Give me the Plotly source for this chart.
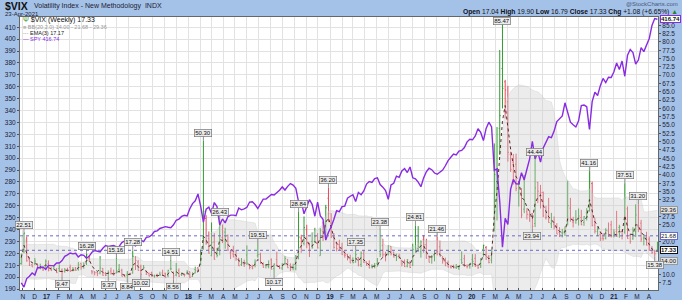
import pandas as pd
import plotly.graph_objects as go

# ---------------- data ----------------
start_date = "2016-10-28"  # first weekly bar (Friday)

# VIX weekly OHLC, Oct-2016 .. Apr-2021
vix_open = [
    13.3, 16.9, 18.7, 14.5, 13.0, 13.3, 13.3, 12.3, 12.1, 12.6,
    # 2017
    13.3, 11.8, 11.9, 11.5, 11.9, 11.4, 11.0, 11.6, 12.2, 11.3, 12.0, 11.6, 13.4, 12.6, 13.4, 15.0, 11.1, 10.9, 10.6, 10.5,
    11.9, 10.4, 10.4, 11.1, 10.4, 10.5, 11.6, 11.3, 9.9, 9.9, 10.3, 10.5, 13.3, 13.8, 12.5, 11.9, 11.1, 10.4, 10.6, 9.6,
    10.0, 10.2, 10.5, 10.4, 9.7, 11.8, 10.8, 9.9, 11.2, 10.0, 10.0, 10.5,
    # 2018
    10.9, 9.5, 11.6, 12.0, 13.2, 21.0, 26.9, 20.9, 15.8, 19.8, 16.1, 18.5, 21.2, 22.8, 21.8, 16.6, 16.2, 15.9, 14.8, 13.0,
    13.2, 15.9, 12.9, 12.5, 13.5, 15.7, 16.1, 13.0, 12.8, 12.4, 14.5, 11.8, 14.6, 12.6, 12.0, 13.2, 14.6, 12.8, 12.0, 11.8,
    15.6, 21.0, 19.4, 23.5, 18.9, 20.0, 20.0, 19.5, 15.7, 22.9, 22.0, 33.0,
    # 2019
    25.5, 22.0, 19.5, 19.0, 18.3, 15.9, 16.1, 15.1, 14.7, 13.8, 15.2, 13.1, 16.4, 13.6, 13.2, 12.6, 12.8, 13.3, 17.0, 18.8,
    16.1, 16.1, 18.5, 16.8, 15.9, 15.7, 14.2, 14.0, 12.6, 13.8, 12.9, 21.6, 17.9, 16.9, 20.5, 19.0, 15.5, 15.5, 15.7, 17.0,
    18.4, 15.0, 14.0, 13.6, 12.6, 12.5, 12.2, 12.0, 14.5, 14.8, 12.6, 12.6,
    # 2020
    14.6, 14.9, 12.8, 12.9, 17.6, 18.2, 15.5, 14.4, 24.0, 38.0, 54.0, 72.0, 68.0, 62.0, 46.2, 43.8, 43.2, 34.6, 35.9, 29.7,
    28.9, 28.0, 28.4, 25.4, 37.8, 34.5, 34.7, 27.1, 29.1, 25.3, 25.2, 24.5, 22.7, 22.6, 22.6, 25.3, 30.0, 25.8, 26.5, 27.0,
    27.2, 25.7, 28.6, 29.2, 37.4, 24.9, 23.0, 22.0, 21.0, 21.0, 23.2, 25.0, 21.7,
    # 2021
    23.0, 24.2, 23.0, 22.8, 29.8, 21.8, 20.8, 23.0, 24.4, 25.5, 21.0, 20.8, 20.7, 17.9, 16.8, 17.04,
]
vix_high = [
    16.2, 22.51, 21.5, 15.3, 13.3, 15.0, 13.3, 13.3, 12.3, 14.6,
    14.3, 12.3, 12.9, 12.0, 13.1, 11.9, 12.0, 12.1, 13.0, 12.3, 12.3, 13.8, 13.4, 13.7, 16.28, 15.6, 11.4, 11.0, 10.9, 15.59,
    12.0, 10.8, 11.3, 12.1, 11.5, 15.16, 13.2, 11.8, 10.1, 11.1, 10.6, 17.28, 15.6, 14.4, 13.0, 12.9, 11.2, 10.6, 10.9, 10.0,
    10.3, 10.9, 11.5, 10.6, 11.5, 14.51, 10.9, 13.5, 11.9, 10.6, 10.3, 11.3,
    10.9, 10.7, 12.4, 12.2, 17.5, 50.30, 27.9, 23.0, 25.7, 22.5, 18.0, 26.43, 25.1, 24.1, 22.1, 17.3, 18.7, 17.4, 15.1, 15.0,
    14.5, 18.8, 13.0, 13.0, 14.6, 19.51, 16.6, 13.7, 13.2, 14.3, 14.9, 13.4, 16.9, 12.9, 13.5, 15.6, 14.6, 13.4, 13.3, 15.9,
    28.84, 22.0, 27.5, 25.0, 19.6, 22.7, 24.1, 22.5, 24.0, 25.9, 31.0, 36.20,
    28.5, 22.5, 20.0, 20.5, 19.6, 17.3, 16.2, 16.0, 15.2, 17.35, 15.3, 17.0, 17.3, 14.0, 14.3, 13.1, 13.5, 15.0, 23.38, 20.8,
    16.9, 18.8, 18.6, 16.9, 16.3, 16.3, 14.5, 14.6, 14.7, 13.9, 19.3, 24.81, 24.6, 20.3, 21.9, 20.8, 15.8, 15.9, 17.4, 21.46,
    20.2, 15.6, 15.1, 14.2, 12.8, 13.0, 13.2, 12.8, 17.0, 16.0, 13.1, 13.5,
    16.2, 16.2, 13.0, 15.0, 19.0, 18.6, 15.9, 17.5, 49.48, 54.4, 77.57, 85.47, 68.6, 66.8, 47.0, 46.3, 46.4, 37.9, 36.0, 40.0,
    30.0, 29.1, 28.5, 44.44, 37.9, 37.0, 35.0, 30.7, 33.1, 28.6, 27.5, 25.5, 24.3, 23.8, 24.5, 38.28, 33.1, 27.4, 29.4, 29.9,
    29.5, 27.6, 30.0, 41.16, 38.0, 27.0, 24.5, 23.0, 22.5, 24.0, 25.7, 26.2, 23.7,
    29.2, 25.0, 23.4, 37.51, 30.5, 22.3, 24.3, 31.16, 31.2, 26.5, 22.2, 22.9, 21.5, 18.6, 17.5, 19.90,
]
vix_low = [
    13.0, 16.5, 13.9, 12.6, 12.3, 12.9, 11.75, 11.6, 11.1, 11.5,
    11.0, 11.2, 11.5, 10.5, 10.9, 9.47, 10.6, 10.9, 10.9, 11.0, 11.2, 11.2, 11.5, 11.8, 12.9, 13.9, 10.1, 9.8, 9.56, 10.1,
    9.7, 9.6, 9.37, 10.0, 9.7, 10.4, 10.9, 9.5, 9.3, 8.84, 9.9, 10.3, 11.4, 11.2, 10.02, 11.5, 9.9, 9.5, 9.4, 9.1,
    9.2, 9.6, 9.6, 9.1, 9.2, 11.3, 8.56, 9.5, 9.3, 9.6, 9.4, 10.0,
    8.92, 9.3, 10.4, 10.8, 12.8, 17.5, 19.0, 16.3, 15.5, 14.5, 15.2, 15.8, 19.5, 17.8, 17.1, 14.7, 15.2, 14.2, 12.6, 12.6,
    12.3, 12.9, 11.6, 11.6, 12.2, 15.1, 13.3, 12.1, 11.9, 11.9, 11.6, 10.17, 12.6, 11.7, 11.4, 13.0, 12.0, 11.1, 11.3, 11.3,
    14.6, 16.6, 18.8, 18.0, 15.3, 17.8, 19.5, 17.9, 15.7, 20.1, 21.4, 25.8,
    21.0, 17.8, 17.0, 17.2, 15.9, 15.1, 14.3, 13.5, 13.5, 13.6, 12.5, 12.3, 13.5, 12.7, 11.9, 11.9, 11.9, 12.4, 15.3, 15.1,
    14.0, 15.8, 15.8, 15.2, 14.1, 14.8, 12.5, 12.3, 12.2, 12.0, 12.6, 16.7, 16.8, 15.1, 16.6, 14.8, 13.7, 13.3, 14.0, 15.8,
    15.5, 13.3, 12.6, 12.2, 11.9, 11.9, 11.7, 11.4, 13.2, 12.4, 11.9, 11.8,
    12.4, 12.3, 11.75, 12.0, 15.4, 14.4, 13.4, 13.4, 23.0, 26.3, 46.0, 60.0, 57.0, 44.0, 40.9, 37.1, 35.1, 30.5, 27.0, 28.5,
    26.6, 25.9, 23.94, 24.3, 31.5, 29.9, 27.3, 26.6, 25.6, 24.0, 23.6, 22.2, 21.3, 21.2, 21.6, 24.8, 25.9, 24.2, 25.3, 24.8,
    24.9, 24.7, 26.3, 29.0, 24.5, 22.4, 21.6, 20.1, 20.2, 20.6, 21.4, 21.2, 21.2,
    21.4, 21.1, 20.6, 22.3, 20.8, 19.3, 20.5, 21.3, 22.8, 19.8, 18.8, 18.8, 17.2, 16.2, 15.38, 16.79,
]
vix_close = [
    16.19, 22.51, 14.17, 12.85, 12.34, 14.07, 11.75, 12.20, 11.44, 14.04,
    11.32, 11.23, 11.54, 10.58, 10.97, 10.85, 11.49, 11.47, 10.96, 11.66, 11.28, 12.96, 12.37, 12.87, 15.96, 14.63, 10.82, 10.57, 10.40, 12.04,
    9.81, 9.75, 10.70, 10.38, 10.02, 11.18, 11.19, 9.51, 9.36, 10.29, 10.03, 15.51, 14.26, 11.28, 10.13, 12.12, 10.17, 9.59, 9.51, 9.65,
    9.61, 9.97, 9.80, 9.14, 11.29, 11.76, 9.67, 11.43, 9.58, 10.49, 9.90, 11.04,
    9.22, 10.16, 11.27, 11.08, 17.31, 29.06, 19.46, 16.49, 19.59, 14.64, 15.80, 24.87, 19.97, 21.49, 17.41, 16.88, 15.41, 14.77, 12.65, 13.42,
    13.22, 13.46, 12.18, 11.98, 13.77, 16.09, 13.37, 12.18, 12.86, 13.03, 11.64, 13.16, 12.64, 11.99, 12.86, 14.88, 12.07, 11.68, 12.12, 14.82,
    21.31, 19.89, 24.16, 19.51, 17.36, 18.14, 21.52, 18.07, 23.23, 21.63, 30.11, 28.34,
    21.38, 18.19, 17.80, 17.42, 16.14, 15.72, 14.91, 13.51, 13.57, 16.05, 12.88, 16.48, 13.71, 12.82, 12.01, 12.09, 12.73, 12.87, 16.04, 15.96,
    15.85, 18.71, 16.30, 15.28, 15.40, 15.08, 13.28, 12.39, 14.45, 12.16, 17.61, 17.97, 18.47, 19.87, 18.98, 15.00, 13.74, 15.32, 17.22, 17.04,
    15.58, 14.25, 12.65, 12.30, 12.07, 12.05, 12.34, 12.62, 13.62, 12.63, 12.51, 13.43,
    14.02, 12.56, 12.10, 14.56, 18.84, 15.47, 13.68, 17.08, 40.11, 41.94, 57.83, 66.04, 65.54, 46.80, 41.67, 38.15, 35.93, 37.19, 27.98, 31.89,
    28.16, 27.51, 24.52, 36.09, 35.12, 34.73, 27.68, 27.29, 25.68, 25.84, 24.46, 22.21, 22.05, 22.54, 22.96, 30.75, 26.87, 25.83, 26.38, 27.63,
    25.00, 27.41, 27.55, 38.02, 24.86, 23.10, 23.70, 20.84, 20.79, 23.31, 21.57, 21.53, 22.75,
    21.56, 24.34, 21.91, 33.09, 20.87, 19.97, 22.05, 27.95, 24.66, 20.69, 20.95, 18.86, 17.33, 16.69, 16.25, 17.33,
]
# closes of the 20 weeks before the first visible bar (indicator warm-up)
vix_close_before = [17.03, 19.41, 25.76, 14.77, 13.20, 12.67, 12.02, 11.87, 11.39, 11.55,
                    11.34, 13.65, 11.98, 17.50, 15.37, 12.29, 13.29, 13.48, 16.12, 13.34]

# SPY weekly close (dividend adjusted), left scale
spy_close = [
    195.2, 191.6, 198.8, 200.7, 203.5, 201.8, 208.1, 207.9, 208.5, 206.5,
    209.9, 209.8, 209.5, 211.9, 211.9, 213.9, 217.5, 218.7, 220.3, 219.6, 220.0, 217.0, 218.8, 218.3, 215.8, 217.7, 220.9, 222.4, 222.1, 221.2,
    224.3, 226.5, 225.9, 226.3, 226.7, 225.5, 225.8, 229.0, 230.4, 230.2, 230.7, 227.6, 226.3, 228.1, 231.1, 229.9, 233.5, 233.8, 235.4, 238.4,
    238.9, 240.9, 241.5, 242.4, 241.9, 241.6, 244.0, 247.8, 248.8, 251.0, 252.0, 251.4,
    257.5, 261.8, 264.1, 269.9, 259.5, 246.3, 257.2, 258.8, 253.4, 262.7, 259.3, 244.0, 248.9, 245.6, 250.8, 252.1, 252.1, 251.6, 258.0, 256.6,
    257.4, 258.7, 263.1, 263.3, 261.0, 257.7, 261.6, 265.6, 265.7, 267.3, 269.4, 269.0, 270.8, 273.1, 275.8, 273.2, 276.3, 278.6, 277.4, 274.7,
    263.3, 263.6, 253.2, 259.5, 265.1, 261.2, 251.2, 263.1, 251.5, 248.6, 231.1, 237.8,
    242.3, 248.6, 255.8, 255.1, 259.3, 259.7, 266.3, 268.0, 269.2, 263.5, 271.2, 269.3, 272.4, 278.2, 280.3, 279.6, 282.9, 283.5, 277.8, 275.6,
    272.7, 265.4, 277.4, 278.9, 284.9, 283.9, 289.2, 291.3, 287.9, 292.6, 283.5, 282.6, 279.9, 276.0, 283.4, 288.5, 291.5, 290.3, 287.5, 286.5,
    288.4, 290.0, 293.6, 297.9, 300.7, 303.5, 302.7, 305.9, 306.5, 308.9, 313.7, 315.8,
    315.4, 318.6, 324.7, 321.6, 314.7, 325.0, 330.2, 326.2, 289.8, 291.0, 263.5, 225.1, 249.4, 244.2, 273.7, 282.1, 278.4, 278.3, 287.8, 281.7,
    290.7, 299.4, 314.2, 299.3, 305.1, 296.6, 308.6, 313.9, 318.0, 317.2, 322.7, 330.7, 332.9, 335.5, 346.5, 338.6, 330.2, 328.1, 326.2, 331.3,
    344.2, 344.6, 343.2, 324.1, 347.5, 355.4, 352.6, 360.9, 367.0, 363.5, 368.0, 367.8, 372.6,
    380.0, 374.5, 381.6, 368.8, 386.4, 391.3, 388.7, 379.1, 382.4, 392.8, 389.5, 396.0, 400.6, 411.5, 417.3, 416.74,
]

# swing labels
label_dates = ["2016-11-04", "2017-04-14", "2017-06-30", "2017-08-11", "2017-11-17", "2018-02-09", "2018-03-23",
               "2018-06-29", "2018-10-12", "2018-12-28", "2019-03-08", "2019-05-10", "2019-08-09", "2019-10-04",
               "2020-03-20", "2020-06-12", "2020-10-30", "2021-01-29", "2021-03-05",
               "2017-02-10", "2017-06-09", "2017-07-28", "2017-09-01", "2017-11-24", "2018-08-10", "2020-06-05",
               "2021-04-16"]
label_values = [22.51, 16.28, 15.16, 17.28, 14.51, 50.30, 26.43, 19.51, 28.84, 36.20, 17.35, 23.38, 24.81, 21.46,
                85.47, 44.44, 41.16, 37.51, 31.20,
                9.47, 9.37, 8.84, 10.02, 8.56, 10.17, 23.94, 15.38]
label_kind = ["H"] * 19 + ["L"] * 8

# right-axis tick values shown (others hidden behind value boxes)
vix_ticks = [7.5, 10.0, 20.0, 25.0, 27.5, 32.5, 35.0, 37.5, 40.0, 42.5, 45.0, 47.5, 50.0, 52.5, 55.0, 57.5,
             60.0, 62.5, 65.0, 67.5, 70.0, 72.5, 75.0, 77.5, 80.0, 82.5, 85.0]

# month tick labels
month_ticks = pd.date_range("2016-11-01", "2021-04-01", freq="MS")
month_letters = ["J", "F", "M", "A", "M", "J", "J", "A", "S", "O", "N", "D"]

# ---------------- indicators ----------------
n = min(len(vix_open), len(vix_high), len(vix_low), len(vix_close), len(spy_close))
dates = pd.date_range(start_date, periods=n, freq="W-FRI")
full = pd.Series(vix_close_before + vix_close[:n])
k = len(vix_close_before)
mid = full.rolling(20).mean()
sd = full.rolling(20).std(ddof=0)
bb_up = (mid + 2 * sd).iloc[k:].values
bb_dn = (mid - 2 * sd).iloc[k:].values
ema3 = full.ewm(span=3, adjust=False).mean().iloc[k:].values
prev_close = full.shift(1).iloc[k:].values
is_up = [vix_close[i] >= prev_close[i] for i in range(n)]

# ---------------- figure ----------------
L, R, T, B = 20, 24, 17, 10
W, H = 682, 300
PW, PH = W - L - R, H - T - B
Y2_LO, Y2_HI = 5.39, 87.5


def px(xp):
    return (xp - L) / PW


def py(yp):
    return (H - B - yp) / PH


def vix_to_px(v):
    return T + (Y2_HI - v) / (Y2_HI - Y2_LO) * PH


FONT = "Liberation Sans"
fig = go.Figure()

fig.add_trace(go.Scatter(x=dates, y=bb_dn, mode="lines", line=dict(color="rgba(200,200,200,0.7)", width=0.5),
                         yaxis="y", hoverinfo="skip", showlegend=False))
fig.add_trace(go.Scatter(x=dates, y=bb_up, mode="lines", line=dict(color="rgba(200,200,200,0.7)", width=0.5),
                         fill="tonexty", fillcolor="rgba(205,205,205,0.38)", yaxis="y", hoverinfo="skip",
                         showlegend=False))
for flag, col in [(True, "#2f9a2f"), (False, "#e8475a")]:
    idx = [i for i in range(n) if is_up[i] == flag]
    fig.add_trace(go.Ohlc(x=dates[idx], open=[vix_open[i] for i in idx], high=[vix_high[i] for i in idx],
                          low=[vix_low[i] for i in idx], close=[vix_close[i] for i in idx],
                          increasing=dict(line=dict(color=col, width=1)),
                          decreasing=dict(line=dict(color=col, width=1)),
                          tickwidth=0.35, yaxis="y", showlegend=False))
fig.add_trace(go.Scatter(x=dates, y=ema3, mode="lines", line=dict(color="#5a2a2a", width=1, dash="dot"),
                         yaxis="y", showlegend=False))
fig.add_trace(go.Scatter(x=dates, y=spy_close[:n], mode="lines", line=dict(color="#8a2be2", width=1.4),
                         yaxis="y2", showlegend=False))

# horizontal dotted reference lines
for lvl in [21.68, 17.33]:
    fig.add_shape(type="line", xref="paper", x0=0, x1=1, yref="y", y0=lvl, y1=lvl,
                  line=dict(color="#6a6ac8", width=1, dash="dot"))

tick_text = []
for d in month_ticks:
    if d.month == 1:
        tick_text.append("<b>%02d</b>" % (d.year % 100))
    else:
        tick_text.append(month_letters[d.month - 1])

fig.update_layout(
    width=W, height=H, margin=dict(l=L, r=R, t=T, b=B, pad=0, autoexpand=False),
    paper_bgcolor="#a4c1e8", plot_bgcolor="white",
    font=dict(family=FONT, size=7, color="#222"),
    xaxis=dict(type="date", range=["2016-10-24 18:00", "2021-04-24 12:00"], tickvals=list(month_ticks),
               ticktext=tick_text, tickfont=dict(size=6.5, color="#223"), ticks="inside", ticklen=2,
               tickcolor="#555", showgrid=True, gridcolor="#e2e2e2", gridwidth=1, showline=True,
               linecolor="#666", linewidth=1, mirror=True, rangeslider=dict(visible=False), tickangle=0,
               automargin=False),
    yaxis=dict(side="right", range=[Y2_LO, Y2_HI], tickvals=vix_ticks, tickformat=".1f",
               tickfont=dict(size=6.5, color="#223"), ticks="outside", ticklen=2, tickcolor="#555",
               showgrid=False, zeroline=False, showline=True, linecolor="#666", mirror=True, automargin=False),
    yaxis2=dict(side="left", overlaying="y", range=[189.2, 418.6], tick0=190, dtick=10,
                tickfont=dict(size=6.5, color="#223"), ticks="outside", ticklen=2, tickcolor="#555",
                showgrid=True, gridcolor="#e2e2e2", gridwidth=1, zeroline=False, automargin=False),
    showlegend=False,
)

ann = []
# header
ann.append(dict(x=px(3), y=py(6.5), xref="paper", yref="paper", xanchor="left", yanchor="middle",
                text="<b>$VIX</b>", font=dict(size=10.5, color="#111"), showarrow=False))
ann.append(dict(x=px(32), y=py(6.5), xref="paper", yref="paper", xanchor="left", yanchor="middle",
                text="Volatility Index - New Methodology  INDX", font=dict(size=7, color="#223"), showarrow=False))
ann.append(dict(x=px(3), y=py(13.5), xref="paper", yref="paper", xanchor="left", yanchor="middle",
                text="23-Apr-2021", font=dict(size=6, color="#223"), showarrow=False))
ann.append(dict(x=px(680), y=py(4), xref="paper", yref="paper", xanchor="right", yanchor="middle",
                text="@StockCharts.com", font=dict(size=6, color="#4a5a7a"), showarrow=False))
ann.append(dict(x=px(680), y=py(12), xref="paper", yref="paper", xanchor="right", yanchor="middle",
                text="<b>Open</b> 17.04 <b>High</b> 19.90 <b>Low</b> 16.79 <b>Close</b> 17.33 "
                     "<b>Chg</b> +1.08 (+6.65%) <span style='color:#1a8a1a'>▲</span>",
                font=dict(size=6.7, color="#112"), showarrow=False))
# legend
leg = [
    (20.5, "<span style='color:#2f9a2f'>Ψ</span> $VIX (Weekly) 17.33", "#111", 7),
    (27.2, "<span style='color:#bbb'>■</span> BB(20,2.0) 14.00 - 21.68 - 29.36", "#999", 5.5),
    (33.2, "··· EMA(3) 17.17", "#222", 5.5),
    (39.2, "<span style='color:#8a2be2'>—</span> SPY 416.74", "#8a2be2", 5.5),
]
for yy, t, c, s in leg:
    ann.append(dict(x=px(22), y=py(yy), xref="paper", yref="paper", xanchor="left", yanchor="middle",
                    text=t, font=dict(size=s, color=c), showarrow=False, borderpad=0))

# right axis value boxes
rbox = [
    (py(19.5), "paper", "<b>416.74</b>", "white", "#8a2be2"),
    (29.36, "y", "29.36", "#e2e2e2", "#999"),
    (21.68, "y", "21.68", "white", "#6a6ac8"),
    (17.33, "y", "<b>17.33</b>", "white", "#111"),
    (14.00, "y", "14.00", "#e2e2e2", "#999"),
]
for yv, yr, t, bg, bc in rbox:
    ann.append(dict(x=1.0, y=yv, xref="paper", yref=yr, xanchor="left", yanchor="middle", xshift=2,
                    text=t, font=dict(size=6, color="#111"), bgcolor=bg, bordercolor=bc, borderwidth=1,
                    borderpad=0, showarrow=False))

# swing labels
for d, v, kd in zip(label_dates, label_values, label_kind):
    ay = -8 if kd == "H" else 8
    ypix = vix_to_px(v)
    if kd == "H" and ypix + ay < T + 5:
        ay = (T + 4) - ypix
    ann.append(dict(x=pd.Timestamp(d), y=v, xref="x", yref="y", text="%.2f" % v,
                    font=dict(size=6, color="#111"), bgcolor="#ececec", bordercolor="#777", borderwidth=0.7,
                    borderpad=0.5, showarrow=True, arrowhead=0, arrowwidth=0.8, arrowcolor="#777",
                    ax=0, ay=ay))

fig.update_layout(annotations=ann)
fig.write_html("out.html")
